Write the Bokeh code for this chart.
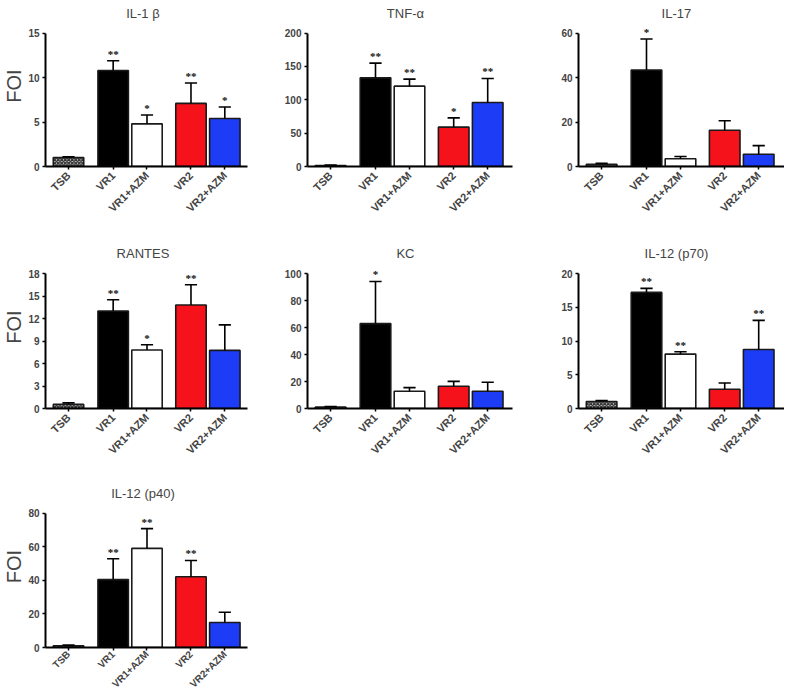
import math
from bokeh.plotting import figure
from bokeh.models import Range1d, FixedTicker, ColumnDataSource, LabelSet, Label
from bokeh.layouts import row, column
from bokeh.embed import file_html
from bokeh.resources import INLINE

# ---- data ----
groups = ["TSB", "VR1", "VR1+AZM", "VR2", "VR2+AZM"]
bar_colors = ["#d4d4d4", "#000000", "#ffffff", "#f5121b", "#1c3cf6"]

il1b_mean = [1.0, 10.8, 4.8, 7.1, 5.4]
il1b_err = [0.1, 1.1, 1.0, 2.3, 1.3]
il1b_sig = ["", "**", "*", "**", "*"]
il1b_ticks = [0, 5, 10, 15]

tnfa_mean = [1.5, 133, 120.5, 59, 96]
tnfa_err = [0.5, 22, 10.5, 14, 36]
tnfa_sig = ["", "**", "**", "*", "**"]
tnfa_ticks = [0, 50, 100, 150, 200]

il17_mean = [1.0, 43.4, 3.5, 16.3, 5.5]
il17_err = [0.4, 14.0, 1.0, 4.3, 3.9]
il17_sig = ["", "*", "", "", ""]
il17_ticks = [0, 20, 40, 60]

rantes_mean = [0.55, 13.0, 7.8, 13.8, 7.75]
rantes_err = [0.2, 1.5, 0.7, 2.7, 3.4]
rantes_sig = ["", "**", "*", "**", ""]
rantes_ticks = [0, 3, 6, 9, 12, 15, 18]

kc_mean = [1.0, 62.9, 12.8, 16.5, 12.8]
kc_err = [0.5, 31.2, 2.7, 3.6, 6.6]
kc_sig = ["", "*", "", "", ""]
kc_ticks = [0, 20, 40, 60, 80, 100]

il12p70_mean = [1.03, 17.2, 8.06, 2.85, 8.75]
il12p70_err = [0.15, 0.6, 0.35, 0.93, 4.3]
il12p70_sig = ["", "**", "**", "", "**"]
il12p70_ticks = [0, 5, 10, 15, 20]

il12p40_mean = [1.0, 40.5, 59.1, 42.2, 14.9]
il12p40_err = [0.4, 12.4, 11.8, 9.7, 6.1]
il12p40_sig = ["", "**", "**", "**", ""]
il12p40_ticks = [0, 20, 40, 60, 80]

# ---- layout constants ----
POS = [0, 1.32, 2.32, 3.62, 4.62]
PX_PER_UNIT = 34.0
X_START = -0.68
AXIS_H = 135     # pixel height of the 0..max tick span
PAD_TOP = 28     # room above the top tick for title and stars
FONT = "Liberation Sans"


def panel(title, mean, err, sig, ticks, frame_w, bl, br, bt, bb, foi=False,
          xstand=4, xsize="11px"):
    x_end = X_START + frame_w / PX_PER_UNIT
    ymax = ticks[-1]
    y_end = ymax * (AXIS_H + PAD_TOP) / AXIS_H
    p = figure(width=bl + frame_w + br, height=bt + AXIS_H + PAD_TOP + bb,
               x_range=Range1d(X_START, x_end), y_range=Range1d(0, y_end),
               output_backend="svg", toolbar_location=None, tools="", title=None,
               min_border_left=bl, min_border_right=br,
               min_border_top=bt, min_border_bottom=bb)
    p.xgrid.visible = False
    p.ygrid.visible = False
    p.outline_line_color = None
    p.background_fill_color = "white"
    p.border_fill_color = "white"

    # bars
    p.vbar(x=POS[1:], top=mean[1:], width=0.9, bottom=0,
           fill_color=bar_colors[1:], line_color="#1a1a1a", line_width=1.6)
    p.vbar(x=POS[:1], top=mean[:1], width=0.9, bottom=0,
           fill_color=bar_colors[0], line_color="#1a1a1a", line_width=1.6,
           hatch_pattern="diagonal_cross", hatch_color="#333333",
           hatch_scale=3.5, hatch_weight=1.4)

    tops = [m + e for m, e in zip(mean, err)]
    p.segment(x0=POS, y0=mean, x1=POS, y1=tops, line_color="black", line_width=1.6)
    p.segment(x0=[x - 0.18 for x in POS], y0=tops, x1=[x + 0.18 for x in POS],
              y1=tops, line_color="black", line_width=1.6)

    src = ColumnDataSource(dict(x=POS, y=tops, sig=sig))
    p.add_layout(LabelSet(x="x", y="y", text="sig", source=src, text_align="center",
                          text_baseline="bottom", y_offset=1, text_font=FONT,
                          text_font_size="11px", text_font_style="bold",
                          text_color="#111111"))

    p.add_layout(Label(x=2.2, y=ymax * (AXIS_H + 20) / AXIS_H, text=title,
                       text_align="center", text_baseline="middle",
                       text_font=FONT, text_font_size="13px"))

    xa = p.xaxis[0]
    xa.ticker = FixedTicker(ticks=POS)
    xa.major_label_overrides = {x: g for x, g in zip(POS, groups)}
    xa.major_label_orientation = math.pi / 4
    xa.major_label_text_font = FONT
    xa.major_label_text_font_style = "bold"
    xa.major_label_text_font_size = xsize
    xa.major_label_standoff = xstand
    xa.major_tick_in = 0
    xa.major_tick_out = 3
    xa.minor_tick_out = 0
    xa.axis_line_width = 2
    xa.major_tick_line_width = 1.5

    ya = p.yaxis[0]
    ya.bounds = (0, ymax)
    ya.ticker = FixedTicker(ticks=ticks)
    ya.major_label_text_font = FONT
    ya.major_label_text_font_style = "bold"
    ya.major_label_text_font_size = "10px"
    ya.major_tick_in = 0
    ya.major_tick_out = 3
    ya.minor_tick_out = 0
    ya.axis_line_width = 2
    ya.major_tick_line_width = 1.5
    ya.major_label_standoff = 3
    if foi:
        ya.axis_label = "FOI"
        ya.axis_label_text_font = FONT
        ya.axis_label_text_font_style = "normal"
        ya.axis_label_text_font_size = "20px"
        ya.axis_label_standoff = 0
    return p


f1 = panel("IL-1 β", il1b_mean, il1b_err, il1b_sig, il1b_ticks, 203, 44, 10, 3, 78, foi=True)
f2 = panel("TNF-α", tnfa_mean, tnfa_err, tnfa_sig, tnfa_ticks, 205, 50, 10, 5, 76)
f3 = panel("IL-17", il17_mean, il17_err, il17_sig, il17_ticks, 206, 56, 0, 5, 76)
f4 = panel("RANTES", rantes_mean, rantes_err, rantes_sig, rantes_ticks, 203, 44, 10, 1, 76, foi=True)
f5 = panel("KC", kc_mean, kc_err, kc_sig, kc_ticks, 205, 50, 10, 1, 76)
f6 = panel("IL-12 (p70)", il12p70_mean, il12p70_err, il12p70_sig, il12p70_ticks, 206, 56, 0, 1, 76)
f7 = panel("IL-12 (p40)", il12p40_mean, il12p40_err, il12p40_sig, il12p40_ticks, 203, 44, 10, 1, 48,
           foi=True, xstand=2, xsize="10px")

layout = column(row(f1, f2, f3), row(f4, f5, f6), f7)

open("out.html", "w").write(file_html(layout, INLINE))
